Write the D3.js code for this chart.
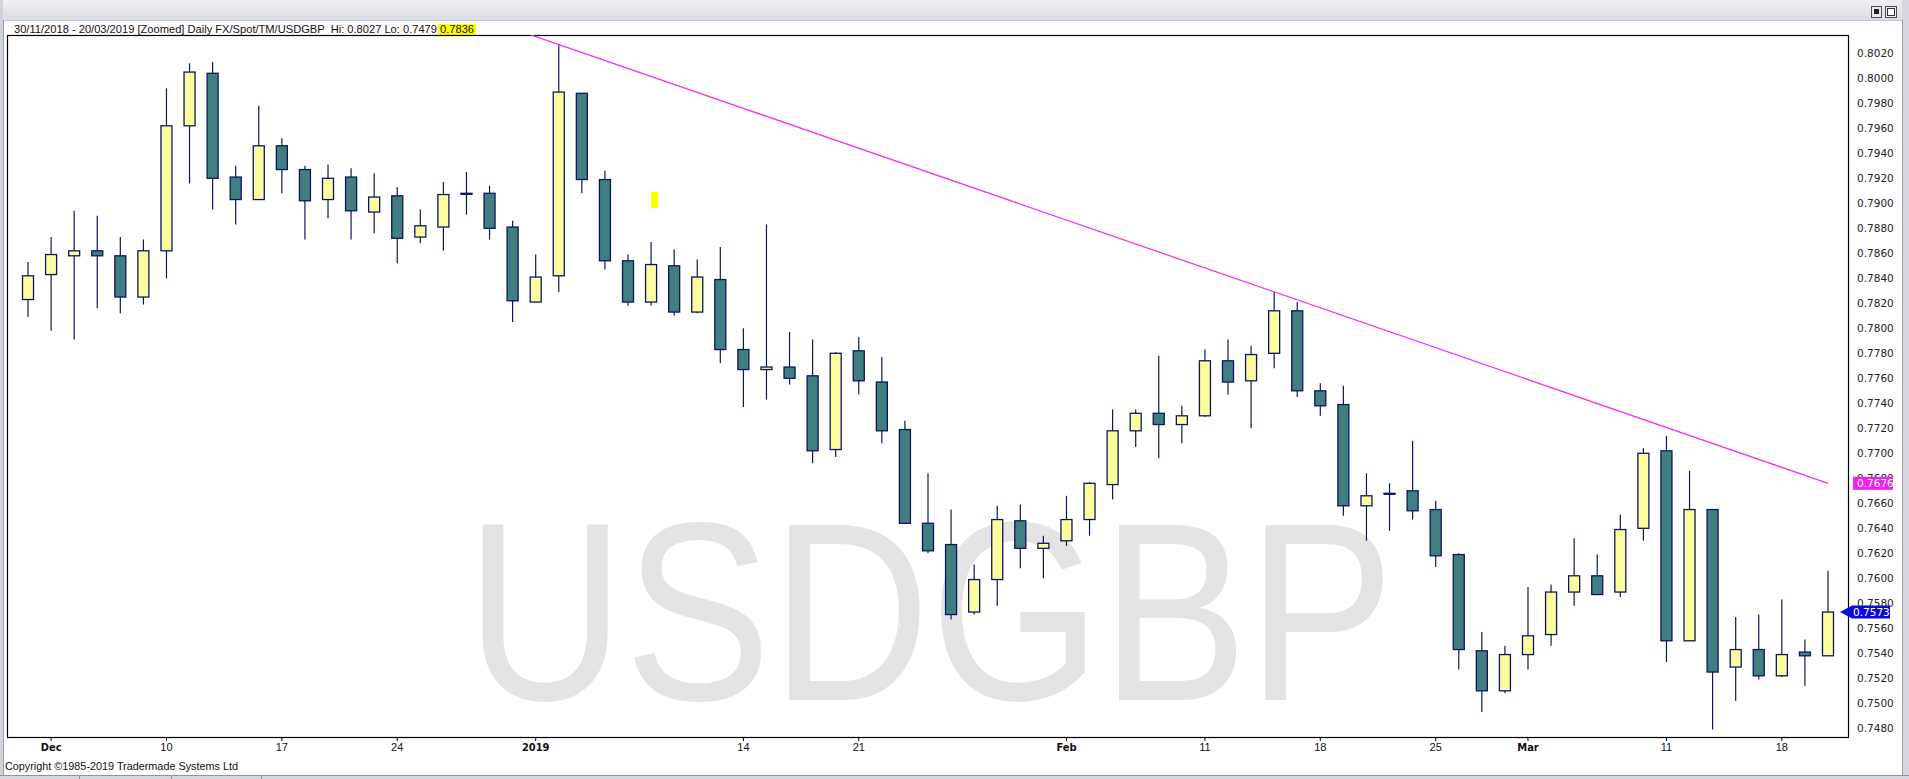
<!DOCTYPE html>
<html><head><meta charset="utf-8">
<script src="https://cdn.jsdelivr.net/npm/d3@7"></script>
<style>html,body{margin:0;padding:0;background:#fff;overflow:hidden}</style>
</head><body>
<svg id="chart" width="1909" height="779"></svg>
<script>
// ---------- DATA ----------
const dates = [
"2018-11-30",
"2018-12-03","2018-12-04","2018-12-05","2018-12-06","2018-12-07",
"2018-12-10","2018-12-11","2018-12-12","2018-12-13","2018-12-14",
"2018-12-17","2018-12-18","2018-12-19","2018-12-20","2018-12-21",
"2018-12-24","2018-12-25","2018-12-26","2018-12-27","2018-12-28",
"2018-12-31","2019-01-01","2019-01-02","2019-01-03","2019-01-04",
"2019-01-07","2019-01-08","2019-01-09","2019-01-10","2019-01-11",
"2019-01-14","2019-01-15","2019-01-16","2019-01-17","2019-01-18",
"2019-01-21","2019-01-22","2019-01-23","2019-01-24","2019-01-25",
"2019-01-28","2019-01-29","2019-01-30","2019-01-31","2019-02-01",
"2019-02-04","2019-02-05","2019-02-06","2019-02-07","2019-02-08",
"2019-02-11","2019-02-12","2019-02-13","2019-02-14","2019-02-15",
"2019-02-18","2019-02-19","2019-02-20","2019-02-21","2019-02-22",
"2019-02-25","2019-02-26","2019-02-27","2019-02-28","2019-03-01",
"2019-03-04","2019-03-05","2019-03-06","2019-03-07","2019-03-08",
"2019-03-11","2019-03-12","2019-03-13","2019-03-14","2019-03-15",
"2019-03-18","2019-03-19","2019-03-20"];
const open = [
0.7823,0.7843,0.7858,0.7862,0.7858,0.7825,0.7862,0.7962,0.8004,0.7921,
0.7903,0.7946,0.7927,0.7903,0.7921,0.7893,0.7906,0.7873,0.7881,0.7908,
0.7908,0.7881,0.7821,0.7842,0.7988,0.7919,0.7854,0.7821,0.7850,0.7813,
0.7839,0.7783,0.7767,0.7769,0.7762,0.7703,0.7782,0.7757,0.7719,0.7644,
0.7627,0.7573,0.7599,0.7646,0.7624,0.7630,0.7647,0.7675,0.7718,0.7732,
0.7723,0.7730,0.7774,0.7758,0.7780,0.7814,0.7750,0.7739,0.7658,0.7668,
0.7670,0.7655,0.7619,0.7542,0.7510,0.7539,0.7555,0.7589,0.7602,0.7589,
0.7640,0.7702,0.7550,0.7655,0.7529,0.7543,0.7522,0.7541,0.7538];
const high = [
0.7853,0.7873,0.7894,0.7890,0.7873,0.7871,0.7992,0.8012,0.8013,0.7930,
0.7978,0.7952,0.7930,0.7931,0.7928,0.7924,0.7913,0.7895,0.7917,0.7925,
0.7914,0.7886,0.7859,0.8027,0.7988,0.7926,0.7859,0.7869,0.7863,0.7855,
0.7865,0.7800,0.7883,0.7797,0.7791,0.7781,0.7793,0.7777,0.7726,0.7684,
0.7655,0.7611,0.7658,0.7659,0.7634,0.7666,0.7677,0.7735,0.7735,0.7778,
0.7738,0.7783,0.7791,0.7786,0.7829,0.7821,0.7756,0.7754,0.7684,0.7676,
0.7710,0.7662,0.7620,0.7557,0.7546,0.7593,0.7595,0.7632,0.7619,0.7651,
0.7704,0.7714,0.7686,0.7655,0.7569,0.7571,0.7583,0.7551,0.7606];
const low = [
0.7809,0.7798,0.7791,0.7816,0.7812,0.7819,0.7840,0.7916,0.7895,0.7883,
0.7903,0.7908,0.7871,0.7888,0.7871,0.7876,0.7852,0.7868,0.7862,0.7891,
0.7871,0.7805,0.7821,0.7829,0.7908,0.7847,0.7818,0.7818,0.7810,0.7812,
0.7772,0.7737,0.7743,0.7755,0.7692,0.7697,0.7747,0.7708,0.7644,0.7620,
0.7567,0.7571,0.7578,0.7608,0.7600,0.7626,0.7634,0.7663,0.7705,0.7696,
0.7708,0.7729,0.7747,0.7720,0.7768,0.7745,0.7730,0.7650,0.7630,0.7638,
0.7647,0.7609,0.7527,0.7493,0.7508,0.7527,0.7546,0.7578,0.7587,0.7585,
0.7630,0.7533,0.7550,0.7479,0.7502,0.7519,0.7521,0.7514,0.7538];
const close = [
0.7842,0.7859,0.7862,0.7858,0.7825,0.7862,0.7962,0.8005,0.7920,0.7903,
0.7946,0.7927,0.7902,0.7920,0.7894,0.7905,0.7872,0.7882,0.7907,0.7908,
0.7880,0.7822,0.7841,0.7989,0.7919,0.7854,0.7821,0.7851,0.7813,0.7841,
0.7783,0.7767,0.7769,0.7760,0.7702,0.7780,0.7758,0.7718,0.7644,0.7622,
0.7571,0.7599,0.7647,0.7624,0.7628,0.7647,0.7676,0.7718,0.7732,0.7723,
0.7730,0.7774,0.7757,0.7779,0.7814,0.7750,0.7738,0.7658,0.7666,0.7668,
0.7654,0.7618,0.7543,0.7510,0.7539,0.7554,0.7589,0.7602,0.7587,0.7639,
0.7700,0.7550,0.7655,0.7525,0.7543,0.7522,0.7539,0.7538,0.7573];

const yTicks = [0.7480,0.7500,0.7520,0.7540,0.7560,0.7580,0.7600,0.7620,0.7640,0.7660,
0.7680,0.7700,0.7720,0.7740,0.7760,0.7780,0.7800,0.7820,0.7840,0.7860,0.7880,0.7900,
0.7920,0.7940,0.7960,0.7980,0.8000,0.8020];
const xTickDates = ["2018-12-03","2018-12-10","2018-12-17","2018-12-24","2019-01-01","2019-01-14",
"2019-01-21","2019-02-01","2019-02-11","2019-02-18","2019-02-25","2019-03-01","2019-03-11","2019-03-18"];
const xTickLabels = ["Dec","10","17","24","2019","14","21","Feb","11","18","25","Mar","11","18"];
const xTickBold = ["Dec","2019","Feb","Mar"];

const trendDates = ["2019-01-02","2019-03-20"];
const trendValues = [0.8027, 0.7676];
const lastPrice = 0.7573;
const headerText = "30/11/2018 - 20/03/2019 [Zoomed] Daily FX/Spot/TM/USDGBP  Hi: 0.8027 Lo: 0.7479";
const cursorText = "0.7836";
const markerDate = "2019-01-08";
const markerRange = [0.7896, 0.7909];
const watermark = "USDGBP";
const copyright = "Copyright \u00A91985-2019 Tradermade Systems Ltd";

// ---------- LAYOUT ----------
const W = 1909, H = 779;
const P = {left: 7, right: 1849, top: 35, bottom: 738};
const C = {light: "#fdfd9e", dark: "#417e7f", edge: "#0c1660", trend: "#ee33ee", axisText: "#222"};

const svg = d3.select("#chart");

// window chrome
const defs = svg.append("defs");
const grad = defs.append("linearGradient").attr("id","topbar").attr("x1",0).attr("y1",0).attr("x2",0).attr("y2",1);
grad.append("stop").attr("offset","0%").attr("stop-color","#eef1f4");
grad.append("stop").attr("offset","100%").attr("stop-color","#d9dee4");
defs.append("clipPath").attr("id","plotclip").append("rect")
  .attr("x",P.left).attr("y",P.top).attr("width",P.right-P.left).attr("height",P.bottom-P.top);

svg.append("rect").attr("width",W).attr("height",H).attr("fill","#ffffff");
svg.append("rect").attr("x",0).attr("y",0).attr("width",W).attr("height",20).attr("fill","url(#topbar)");
svg.append("line").attr("x1",0).attr("x2",W).attr("y1",20.5).attr("y2",20.5).attr("stroke","#c4c9cf");
svg.append("rect").attr("x",0).attr("y",0).attr("width",3).attr("height",H).attr("fill","#cfd4da");
svg.append("line").attr("x1",3.5).attr("x2",3.5).attr("y1",20).attr("y2",775).attr("stroke","#9aa0a7");
svg.append("rect").attr("x",1902).attr("y",0).attr("width",7).attr("height",H).attr("fill","#d4d9df");
svg.append("line").attr("x1",1902.5).attr("x2",1902.5).attr("y1",20).attr("y2",775).attr("stroke","#9aa0a7");
svg.append("rect").attr("x",0).attr("y",775).attr("width",W).attr("height",4).attr("fill","#d3d8de");
svg.append("line").attr("x1",0).attr("x2",W).attr("y1",775.5).attr("y2",775.5).attr("stroke","#8e949b");
[79,171,261].forEach(xx => svg.append("line").attr("x1",xx+0.5).attr("x2",xx+0.5).attr("y1",776).attr("y2",779).attr("stroke","#8e949b"));
// title-bar buttons
const btn = svg.append("g");
btn.append("rect").attr("x",1871.5).attr("y",6.5).attr("width",10).attr("height",11).attr("fill","#e9ecef").attr("stroke","#4a4f55");
btn.append("rect").attr("x",1874).attr("y",9).attr("width",5).attr("height",5).attr("fill","#222");
btn.append("rect").attr("x",1885.5).attr("y",6.5).attr("width",11).attr("height",11).attr("fill","#e9ecef").attr("stroke","#4a4f55");
btn.append("rect").attr("x",1887.5).attr("y",8.5).attr("width",7).attr("height",7).attr("fill","#fff").attr("stroke","#333");

// scales
const x = d3.scaleBand().domain(dates).range([P.left, P.right]).paddingInner(0.523).paddingOuter(0.672);
const cx = d => x(d) + x.bandwidth()/2;
const y = d3.scaleLinear().domain([0.7480, 0.8020]).range([728.3, 53.3]);

// watermark
svg.append("g").attr("transform","translate(930,700) scale(0.862,1)")
  .append("text").attr("text-anchor","middle")
  .attr("font-family","'Liberation Sans', Arial, sans-serif").attr("font-size",255)
  .attr("fill","#e4e4e4").text(watermark);

// header
svg.append("text").attr("x",14).attr("y",32.5)
  .attr("font-family","'Liberation Sans', Arial, sans-serif").attr("font-size",10.8)
  .attr("fill","#111").attr("textLength",423).attr("lengthAdjust","spacingAndGlyphs")
  .attr("xml:space","preserve").text(headerText);
svg.append("rect").attr("x",438).attr("y",24).attr("width",38).attr("height",11).attr("fill","#ffff00");
svg.append("text").attr("x",440).attr("y",32.5)
  .attr("font-family","'Liberation Sans', Arial, sans-serif").attr("font-size",10.8)
  .attr("fill","#111").attr("textLength",34).attr("lengthAdjust","spacingAndGlyphs").text(cursorText);

// plot frame
svg.append("rect").attr("x",P.left+0.5).attr("y",P.top+0.5)
  .attr("width",P.right-P.left-1).attr("height",P.bottom-P.top-1)
  .attr("fill","none").attr("stroke","#000").attr("stroke-width",1.2);

// candles
const data = dates.map((d,i) => ({d, o: open[i], h: high[i], l: low[i], c: close[i]}));
const plot = svg.append("g").attr("clip-path","url(#plotclip)");
const cg = plot.append("g");
cg.selectAll("line.wick").data(data).join("line").attr("class","wick")
  .attr("x1",d=>cx(d.d)).attr("x2",d=>cx(d.d))
  .attr("y1",d=>y(d.h)).attr("y2",d=>y(d.l))
  .attr("stroke",C.edge).attr("stroke-width",1.2);
cg.selectAll("rect.body").data(data).join("rect").attr("class","body")
  .attr("x",d=>x(d.d)).attr("width",x.bandwidth())
  .attr("y",d=>y(Math.max(d.o,d.c)))
  .attr("height",d=>Math.max(1, Math.abs(y(d.o)-y(d.c))))
  .attr("fill",d=> d.c > d.o ? C.light : (d.c < d.o ? C.dark : C.edge))
  .attr("stroke",C.edge).attr("stroke-width",1.3);

// yellow cursor marker
plot.append("rect")
  .attr("x", x(markerDate) + x.step()*0.24).attr("width", 7)
  .attr("y", y(markerRange[1])).attr("height", y(markerRange[0]) - y(markerRange[1]))
  .attr("fill","#ffff00");

// trend line (extended left until it leaves the plot top)
const tx1 = cx(trendDates[0]), ty1 = y(trendValues[0]);
const tx2 = cx(trendDates[1]), ty2 = y(trendValues[1]);
const slope = (ty2-ty1)/(tx2-tx1);
const tx0 = tx1 - (ty1 - P.top + 2)/slope;
plot.append("line")
  .attr("x1",tx0).attr("y1",ty1 + (tx0-tx1)*slope)
  .attr("x2",tx2).attr("y2",ty2)
  .attr("stroke",C.trend).attr("stroke-width",1.3);

// x axis
const xAxis = d3.axisBottom(x).tickValues(xTickDates)
  .tickFormat(d => xTickLabels[xTickDates.indexOf(d)]).tickSize(3).tickPadding(2);
const gx = svg.append("g").attr("transform",`translate(0,${P.bottom})`).call(xAxis);
gx.select(".domain").remove();
gx.selectAll(".tick line").attr("stroke","#000");
gx.selectAll(".tick text")
  .attr("dy",null).attr("y",12.7)
  .attr("fill","#111")
  .attr("font-family", d => xTickBold.includes(xTickLabels[xTickDates.indexOf(d)]) ? "'DejaVu Sans Condensed','DejaVu Sans',sans-serif" : "'Liberation Sans', Arial, sans-serif")
  .attr("font-weight", d => xTickBold.includes(xTickLabels[xTickDates.indexOf(d)]) ? "bold" : "normal")
  .attr("font-size", 11);

// y axis
const yAxis = d3.axisRight(y).tickValues(yTicks).tickFormat(d3.format(".4f")).tickSize(0).tickPadding(8);
const gy = svg.append("g").attr("transform",`translate(${P.right},0)`).call(yAxis);
gy.select(".domain").remove();
gy.selectAll(".tick text").attr("font-family","'DejaVu Sans', Verdana, sans-serif")
  .attr("font-size",10.5).attr("fill",C.axisText);

// trend value label
const tyEnd = y(trendValues[1]);
svg.append("rect").attr("x",1853).attr("y",tyEnd-6.5).attr("width",40).attr("height",13).attr("fill","#ee22ee");
svg.append("text").attr("x",1857).attr("y",tyEnd).attr("dy","0.36em")
  .attr("font-family","'DejaVu Sans', Verdana, sans-serif").attr("font-size",10.5)
  .attr("fill","#fff").text(d3.format(".4f")(trendValues[1]));

// last price label
const yl = y(lastPrice);
svg.append("path")
  .attr("d",`M1840,${yl} L1852,${yl-6.5} L1890,${yl-6.5} L1890,${yl+6.5} L1852,${yl+6.5} Z`)
  .attr("fill","#0a0ade");
svg.append("text").attr("x",1853).attr("y",yl).attr("dy","0.36em")
  .attr("font-family","'DejaVu Sans', Verdana, sans-serif").attr("font-size",10.5)
  .attr("fill","#fff").text(d3.format(".4f")(lastPrice));

// copyright
svg.append("text").attr("x",5).attr("y",770)
  .attr("font-family","'Liberation Sans', Arial, sans-serif").attr("font-size",10.8)
  .attr("fill","#111").attr("textLength",233).attr("lengthAdjust","spacingAndGlyphs").text(copyright);
</script>
</body></html>
